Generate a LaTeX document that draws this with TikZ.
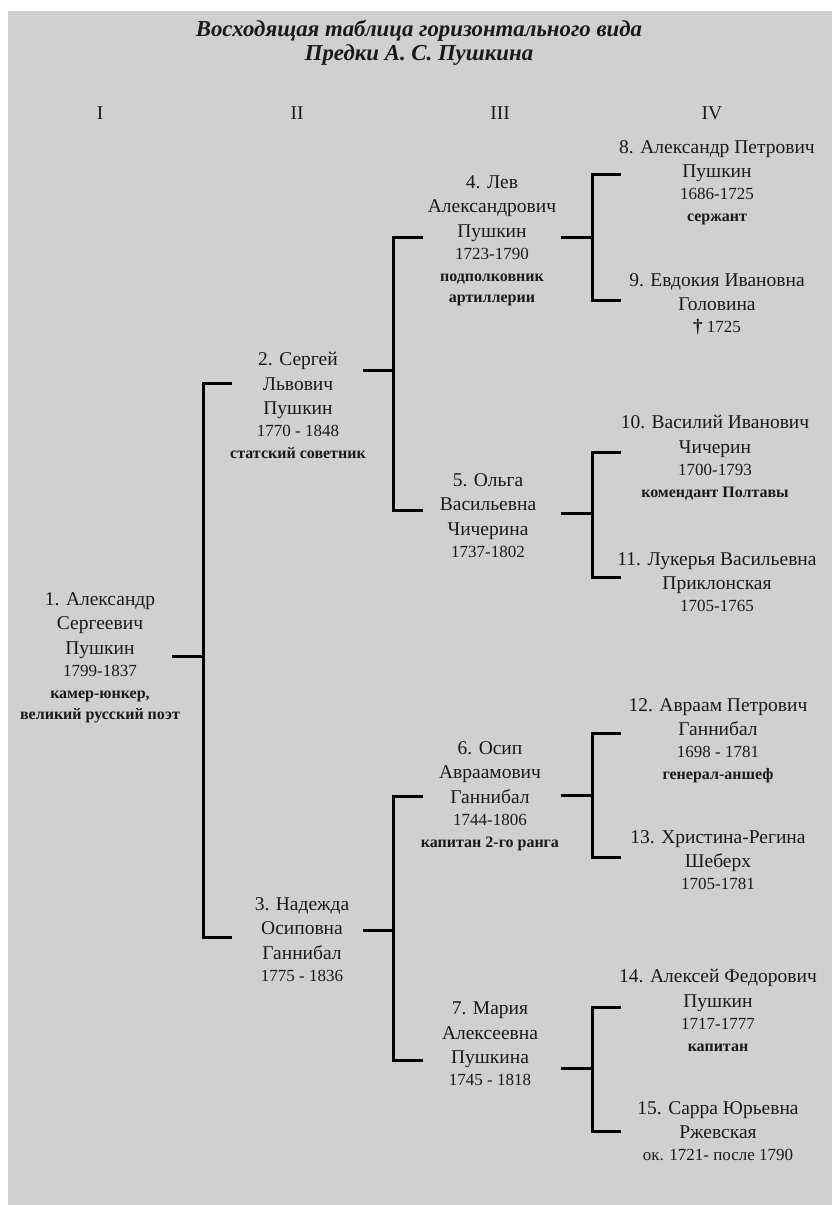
\documentclass[tikz,border=0pt]{standalone}
\usepackage{fontspec}
\setmainfont{Liberation Serif}
\usetikzlibrary{calc}
\definecolor{paper}{RGB}{208,208,208}
\definecolor{ink}{RGB}{25,25,25}
\def\namef{\fontsize{19.5}{24.5}\selectfont}
\def\datef{\fontsize{17}{22}\selectfont}
\def\jobf{\fontsize{16}{21}\selectfont\bfseries}
\def\drawfork{\draw[color=black, line width=3pt]}
\def\ancestor{\node[anchor=north,align=center,inner sep=0pt,text=ink,font=\namef]}

\begin{document}
\begin{tikzpicture}[x=1pt,y=-1pt]
\useasboundingbox (0,0) rectangle (832,1205);
\fill[paper] (8,11) rectangle (832,1205);

% Title and generations
\node[font=\fontsize{22.8}{27}\selectfont\bfseries\itshape,text=ink] (title) at (419,31) {Восходящая таблица горизонтального вида};
\node[font=\fontsize{22.8}{27}\selectfont\bfseries\itshape,text=ink] (subtitle) at (419,55) {Предки А.~С.~Пушкина};
\node[font=\namef,text=ink] (gen1) at (100,113) {I};
\node[font=\namef,text=ink] (gen2) at (297,113) {II};
\node[font=\namef,text=ink] (gen3) at (500,113) {III};
\node[font=\namef,text=ink] (gen4) at (712,113) {IV};

% Generation I and II
\ancestor (p1) at (100,592) {1. Александр\\Сергеевич\\Пушкин\\[-2.5pt]\datef 1799-1837\\[-2.5pt]\jobf камер-юнкер,\\[-3.5pt]\jobf великий русский поэт};
\ancestor (p2) at (298,352) {2. Сергей\\Львович\\Пушкин\\[-2.5pt]\datef 1770 - 1848\\[-2.5pt]\jobf статский советник};
\ancestor (p3) at (302,897) {3. Надежда\\Осиповна\\Ганнибал\\[-2.5pt]\datef 1775 - 1836};

% Generation III
\ancestor (p4) at (492,175) {4. Лев\\Александрович\\Пушкин\\[-2.5pt]\datef 1723-1790\\[-2.5pt]\jobf подполковник\\[-3.5pt]\jobf артиллерии};
\ancestor (p5) at (488,473) {5. Ольга\\Васильевна\\Чичерина\\[-2.5pt]\datef 1737-1802};
\ancestor (p6) at (490,741) {6. Осип\\Авраамович\\Ганнибал\\[-2.5pt]\datef 1744-1806\\[-2.5pt]\jobf капитан 2-го ранга};
\ancestor (p7) at (490,1002) {7. Мария\\Алексеевна\\Пушкина\\[-2.5pt]\datef 1745 - 1818};

% Generation IV
\ancestor (p8) at (717,140) {8. Александр Петрович\\Пушкин\\[-2.5pt]\datef 1686-1725\\[-2.5pt]\jobf сержант};
\ancestor (p9) at (717,273) {9. Евдокия Ивановна\\Головина\\[-2.5pt]\datef {\bfseries\fontsize{19}{22}\selectfont †} 1725};
\ancestor (p10) at (715,415) {10. Василий Иванович\\Чичерин\\[-2.5pt]\datef 1700-1793\\[-2.5pt]\jobf комендант Полтавы};
\ancestor (p11) at (717,552) {11. Лукерья Васильевна\\Приклонская\\[-2.5pt]\datef 1705-1765};
\ancestor (p12) at (718,698) {12. Авраам Петрович\\Ганнибал\\[-2.5pt]\datef 1698 - 1781\\[-2.5pt]\jobf генерал-аншеф};
\ancestor (p13) at (718,830) {13. Христина-Регина\\Шеберх\\[-2.5pt]\datef 1705-1781};
\ancestor (p14) at (718,969) {14. Алексей Федорович\\Пушкин\\[-2.5pt]\datef 1717-1777\\[-2.5pt]\jobf капитан};
\ancestor (p15) at (718,1101) {15. Сарра Юрьевна\\Ржевская\\[-2.5pt]\datef ок. 1721- после 1790};

% Forks, each relative to its junction
\coordinate (j1) at (203,656);
\drawfork ($ (j1) + (-31,0) $) -- (j1);
\drawfork ($ (j1) + (29,-273) $) -- ($ (j1) + (0,-273) $) -- ($ (j1) + (0,281) $) -- ($ (j1) + (29,281) $);

\coordinate (j2) at (393,370);
\drawfork ($ (j2) + (-30,0) $) -- (j2);
\drawfork ($ (j2) + (30,-133) $) -- ($ (j2) + (0,-133) $) -- ($ (j2) + (0,140) $) -- ($ (j2) + (30,140) $);

\coordinate (j3) at (393,930);
\drawfork ($ (j3) + (-30,0) $) -- (j3);
\drawfork ($ (j3) + (30,-134) $) -- ($ (j3) + (0,-134) $) -- ($ (j3) + (0,130) $) -- ($ (j3) + (30,130) $);

\coordinate (j4) at (592,237);
\drawfork ($ (j4) + (-31,0) $) -- (j4);
\drawfork ($ (j4) + (29,-63) $) -- ($ (j4) + (0,-63) $) -- ($ (j4) + (0,63) $) -- ($ (j4) + (29,63) $);

\coordinate (j5) at (592,513);
\drawfork ($ (j5) + (-31,0) $) -- (j5);
\drawfork ($ (j5) + (29,-61) $) -- ($ (j5) + (0,-61) $) -- ($ (j5) + (0,64) $) -- ($ (j5) + (29,64) $);

\coordinate (j6) at (592,795);
\drawfork ($ (j6) + (-31,0) $) -- (j6);
\drawfork ($ (j6) + (29,-62) $) -- ($ (j6) + (0,-62) $) -- ($ (j6) + (0,62) $) -- ($ (j6) + (29,62) $);

\coordinate (j7) at (592,1068);
\drawfork ($ (j7) + (-31,0) $) -- (j7);
\drawfork ($ (j7) + (29,-61) $) -- ($ (j7) + (0,-61) $) -- ($ (j7) + (0,63) $) -- ($ (j7) + (29,63) $);
\end{tikzpicture}
\end{document}
